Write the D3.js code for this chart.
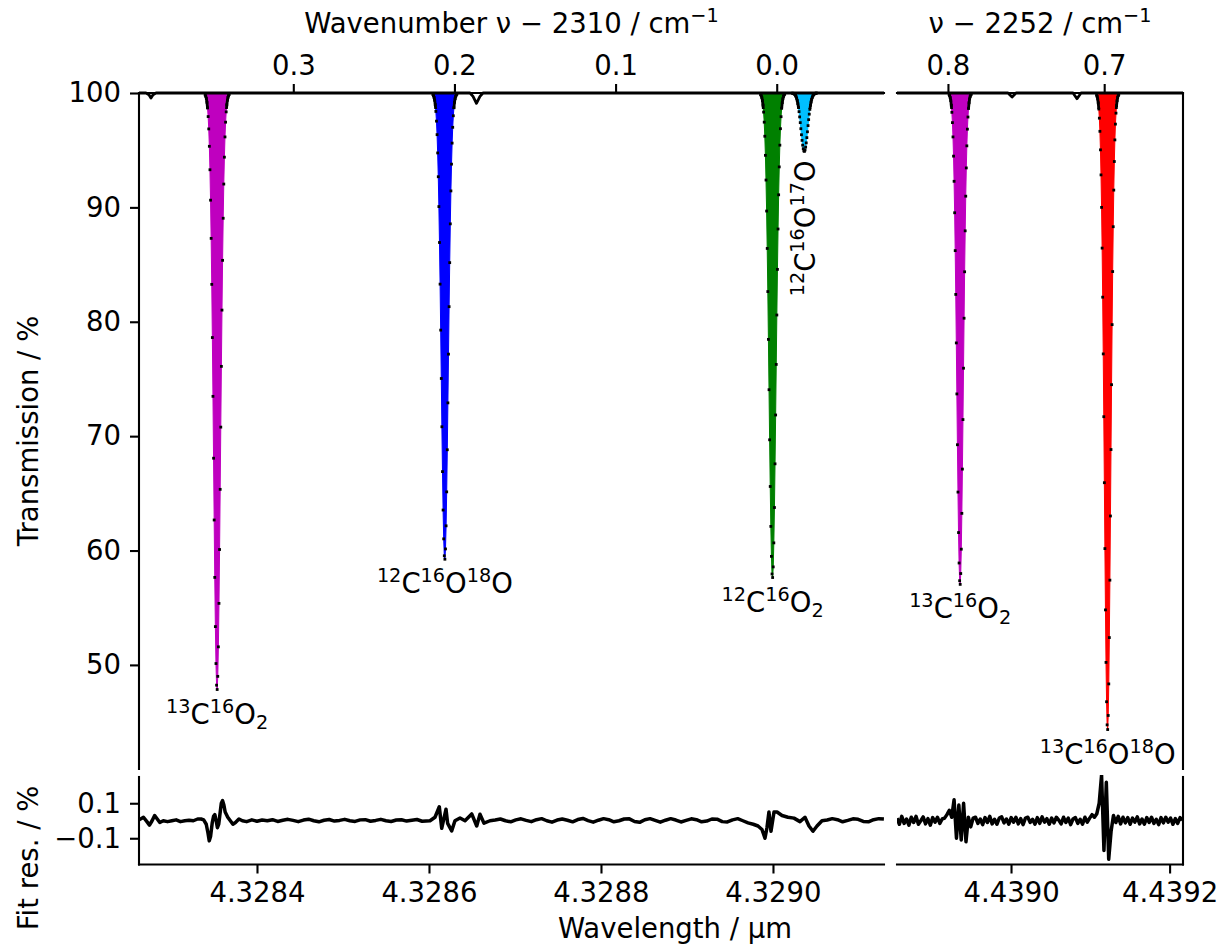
<!DOCTYPE html>
<html><head><meta charset="utf-8">
<script src="https://cdn.jsdelivr.net/npm/d3@7"></script>
<style>body{margin:0;background:#fff;} text{font-family:"DejaVu Sans";fill:#000;}</style>
</head><body><svg id="c" width="1217" height="949"></svg>
<script>
// ---------------- DATA ----------------
// measured transmission (%) for each absorption line, sampled every sampleStepUm from peakStartUm
const sampleStepUm = 0.0000007;
const peakStartUm = [4.3283397, 4.3286045, 4.3289856, 4.3290226, 4.4389219, 4.4391079];
const peakPanel = ["left", "left", "left", "left", "right", "right"];
const tr13C16O2_a = [99.84,99.72,99.52,99.19,98.69,97.94,96.86,95.34,93.29,90.63,87.29,83.27,78.62,73.48,68.07,62.67,57.65,53.35,50.12,48.23,47.85,49.00,51.58,55.38,60.09,65.35,70.79,76.10,81.02,85.37,89.05,92.04,94.39,96.16,97.45,98.35,98.97,99.37,99.63,99.79,99.88];
const tr12C16O18O = [99.88,99.78,99.62,99.37,98.98,98.39,97.54,96.36,94.76,92.68,90.07,86.93,83.29,79.27,75.04,70.82,66.90,63.54,61.02,59.54,59.24,60.14,62.16,65.13,68.81,72.91,77.17,81.32,85.17,88.56,91.44,93.78,95.62,97.00,98.01,98.71,99.19,99.51,99.71,99.83,99.91];
const tr12C16O2 = [99.87,99.77,99.61,99.34,98.94,98.33,97.45,96.22,94.55,92.39,89.68,86.41,82.64,78.46,74.06,69.68,65.60,62.11,59.49,57.95,57.64,58.57,60.67,63.76,67.58,71.85,76.27,80.59,84.58,88.11,91.10,93.54,95.44,96.88,97.93,98.66,99.16,99.49,99.70,99.83,99.90];
const tr12C16O17O = [99.98,99.97,99.95,99.92,99.87,99.80,99.69,99.54,99.34,99.08,98.76,98.37,97.91,97.41,96.88,96.35,95.86,95.44,95.13,94.94,94.90,95.02,95.27,95.64,96.10,96.61,97.15,97.67,98.15,98.57,98.93,99.22,99.45,99.62,99.75,99.84,99.90,99.94,99.96,99.98,99.99];
const tr13C16O2_b = [99.87,99.77,99.60,99.34,98.92,98.31,97.41,96.16,94.48,92.28,89.53,86.22,82.39,78.15,73.69,69.25,65.11,61.57,58.91,57.36,57.04,57.99,60.12,63.25,67.12,71.45,75.94,80.31,84.37,87.95,90.98,93.45,95.38,96.84,97.90,98.64,99.15,99.48,99.70,99.83,99.90];
const tr13C16O18O = [99.83,99.70,99.48,99.14,98.60,97.80,96.65,95.03,92.84,90.00,86.44,82.15,77.19,71.70,65.93,60.17,54.81,50.22,46.78,44.76,44.35,45.58,48.34,52.39,57.41,63.02,68.83,74.50,79.75,84.39,88.31,91.51,94.01,95.90,97.28,98.24,98.90,99.33,99.61,99.77,99.87];
const peakTransmission = [tr13C16O2_a, tr12C16O18O, tr12C16O2, tr12C16O17O, tr13C16O2_b, tr13C16O18O];
// species labels (segments: text, kind)
const labelSegments = [
  [["13","sup"],["C",""],["16","sup"],["O",""],["2","sub"]],
  [["12","sup"],["C",""],["16","sup"],["O",""],["18","sup"],["O",""]],
  [["12","sup"],["C",""],["16","sup"],["O",""],["2","sub"]],
  [["12","sup"],["C",""],["16","sup"],["O",""],["17","sup"],["O",""]],
  [["13","sup"],["C",""],["16","sup"],["O",""],["2","sub"]],
  [["13","sup"],["C",""],["16","sup"],["O",""],["18","sup"],["O",""]]
];
const labelRotated = [false, false, false, true, false, false];

// baseline of the measured spectrum away from the main lines [wavelength µm, transmission %]
const baselineLeft = [[4.3282628,100],[4.3282709,100],[4.3282744,99.85],[4.3282767,99.55],[4.3282791,99.85],[4.3282826,100],
  [4.3286477,100],[4.3286512,99.7],[4.3286552,99.1],[4.3286593,99.7],[4.3286628,100],[4.3291291,100]];
const baselineRight = [[4.4388562,100],[4.4389962,100],[4.4390013,99.65],[4.4390063,100],
  [4.4390782,100],[4.4390832,99.5],[4.4390883,100],[4.4392169,100]];

// fit residuals (%)
const residualLeft = [
 [4.328263,0.005],[4.328268,0.02],[4.328272,-0.005],[4.328275,-0.025],[4.328278,0.0],[4.328281,0.03],[4.328284,0.01],[4.328287,-0.01],
 [4.328291,0.0],[4.328296,-0.005],[4.328301,0.0],[4.328306,0.005],[4.328311,-0.005],[4.328316,0.0],[4.328321,0.003],[4.328326,0.0],
 [4.328331,0.01],[4.328335,0.01],[4.328338,0.005],[4.328341,-0.02],[4.328343,-0.07],[4.3283445,-0.115],[4.328346,-0.09],[4.328348,-0.01],
 [4.3283495,0.025],[4.328351,0.035],[4.3283525,0.0],[4.328354,-0.04],[4.3283555,-0.02],[4.328357,0.04],[4.3283585,0.1],[4.328360,0.115],
 [4.3283615,0.09],[4.328363,0.05],[4.328366,0.02],[4.328369,0.0],[4.328372,-0.02],[4.328375,-0.01],[4.328379,0.01],[4.328383,0.0],[4.328388,-0.005],
 [4.328394,0.005],[4.328400,-0.003],[4.328406,0.004],[4.328412,0.0],[4.328418,0.006],[4.328424,-0.004],[4.328430,0.003],[4.328436,0.008],
 [4.328442,0.002],[4.328448,-0.005],[4.328454,0.004],[4.328460,0.009],[4.328466,0.0],[4.328472,-0.006],[4.328478,0.003],[4.328484,0.007],
 [4.328490,-0.002],[4.328496,0.002],[4.328502,0.008],[4.328508,0.0],[4.328514,-0.004],[4.328520,0.005],[4.328526,0.006],[4.328532,-0.003],
 [4.328538,0.002],[4.328544,0.008],[4.328550,0.0],[4.328556,-0.004],[4.328562,0.004],[4.328568,0.006],[4.328574,-0.002],[4.328580,0.003],
 [4.328586,0.007],[4.328592,-0.003],
 [4.3286012,0.0],[4.3286070,0.02],[4.3286120,0.08],[4.3286148,-0.043],[4.3286198,0.066],[4.3286217,-0.015],[4.3286264,-0.058],[4.3286302,0.0],
 [4.3286361,0.016],[4.3286419,0.0],[4.3286497,0.039],[4.3286555,-0.03],[4.3286593,0.037],[4.3286640,-0.014],[4.3286709,0.0],
 [4.328677,0.004],[4.328683,0.01],[4.328689,0.0],[4.328695,-0.006],[4.328701,0.005],[4.328707,0.011],[4.328713,0.002],[4.328719,-0.005],
 [4.328725,0.006],[4.328731,0.012],[4.328737,0.0],[4.328743,-0.008],[4.328749,0.004],[4.328755,0.01],[4.328761,0.003],[4.328767,-0.006],
 [4.328773,0.007],[4.328779,0.013],[4.328785,0.001],[4.328791,-0.008],[4.328797,0.003],[4.328803,0.012],[4.328809,0.006],[4.328815,-0.006],
 [4.328821,0.0],[4.328827,0.01],[4.328833,0.011],[4.328839,-0.004],[4.328845,-0.009],[4.328851,0.006],[4.328857,0.012],[4.328863,0.002],
 [4.328869,-0.008],[4.328875,0.003],[4.328881,0.012],[4.328887,0.004],[4.328893,-0.007],[4.328899,0.002],[4.328905,0.011],[4.328911,0.006],
 [4.328917,-0.006],[4.328923,-0.002],[4.328929,0.01],[4.328935,0.009],[4.328941,-0.005],[4.328947,-0.007],[4.328953,0.005],[4.328959,0.012],
 [4.328965,0.0],[4.328971,-0.012],[4.328977,-0.02],
 [4.3289826,-0.03],[4.3289872,-0.05],[4.3289907,-0.1],[4.3289930,-0.04],[4.3289953,0.05],[4.3289977,-0.06],[4.3290012,0.05],[4.3290047,0.05],
 [4.3290105,0.03],[4.3290174,0.02],[4.3290244,0.015],[4.3290314,-0.005],[4.3290372,0.02],[4.3290419,-0.03],[4.3290465,-0.06],[4.3290512,-0.03],[4.3290570,0.0],
 [4.329063,0.004],[4.329069,0.012],[4.329075,0.006],[4.329081,-0.006],[4.329087,0.002],[4.329093,0.011],[4.329099,0.008],[4.329105,-0.004],
 [4.329111,-0.006],[4.329117,0.006],[4.329123,0.012],[4.329129,0.01]
];
const residualRightStartUm = 4.4388562;
const residualRightStepUm = 0.000003;
const residualRight = [0.015,-0.02,0.025,-0.015,0.01,-0.025,0.02,-0.01,0.025,-0.02,0.0,0.022,-0.018,0.012,-0.025,0.018,-0.008,0.02,-0.015,0.01,
 0.015,0.035,0.06,0.02,0.12,-0.1,0.09,-0.11,0.1,-0.12,0.02,-0.035,0.015,
 0.02,-0.015,0.01,-0.022,0.018,-0.01,0.025,-0.018,0.008,-0.02,0.015,0.022,-0.012,0.01,-0.02,0.018,-0.008,0.02,-0.018,0.012,-0.022,0.015,
 0.02,-0.01,0.008,-0.02,0.018,-0.015,0.022,-0.008,0.012,-0.02,0.015,-0.012,0.02,0.004,-0.018,0.02,-0.01,0.015,-0.022,0.01,0.018,-0.015,
 0.008,-0.02,0.02,-0.008,0.015,0.035,
 0.02,0.04,0.1,0.26,-0.17,0.22,-0.22,-0.06,0.03,-0.01,
 0.025,-0.018,0.02,-0.012,0.018,-0.02,0.015,-0.008,0.022,-0.018,0.01,-0.02,0.018,-0.01,0.02,-0.015,0.008,-0.022,0.018,-0.012,0.02,-0.008,
 0.015,-0.02,0.012,-0.015,0.018,0.004];

// axis ticks
const ticksBottomLeft = [4.3284, 4.3286, 4.3288, 4.3290];
const ticksBottomRight = [4.4390, 4.4392];
const ticksTopLeft = [0.3, 0.2, 0.1, 0.0];
const ticksTopRight = [0.8, 0.7];
const ticksTransmission = [50, 60, 70, 80, 90, 100];
const ticksResidual = [0.1, -0.1];

// ---------------- STYLE / LAYOUT ----------------
const peakColors = ["#bf00bf", "#0000ff", "#008000", "#00bfff", "#bf00bf", "#ff0000"];
const FS = 27.5, TICK = 9, SPW = 2.1;
const LP = {x0: 139, x1: 884}, RP = {x0: 897, x1: 1183};
const TOP = {y0: 93, y1: 769}, RES = {y0: 777, y1: 864.5};

const svg = d3.select("#c");
const xL = d3.scaleLinear().domain([4.3282628, 4.3291291]).range([LP.x0, LP.x1]);
const xR = d3.scaleLinear().domain([4.4388562, 4.4392169]).range([RP.x0, RP.x1]);
const yT = d3.scaleLinear().domain([40.9, 100]).range([TOP.y1, TOP.y0]);
const yRes = d3.scaleLinear().domain([-0.25, 0.25]).range([RES.y1, RES.y0]);
const nuL = d3.scaleLinear().domain(xL.domain().map(l => 1e4 / l - 2310)).range(xL.range());
const nuR = d3.scaleLinear().domain(xR.domain().map(l => 1e4 / l - 2252)).range(xR.range());
const xsOf = p => p === "left" ? xL : xR;

const defs = svg.append("defs");
[["clipL", LP, TOP], ["clipR", RP, TOP]].forEach(([id, P, Y]) => {
  defs.append("clipPath").attr("id", id).append("rect")
    .attr("x", P.x0).attr("y", Y.y0 - 3).attr("width", P.x1 - P.x0).attr("height", Y.y1 - Y.y0 + 3);
});
[["shL", LP], ["shR", RP]].forEach(([id, P]) => {
  defs.append("clipPath").attr("id", id).append("rect")
    .attr("x", P.x0).attr("y", TOP.y0 - 3).attr("width", P.x1 - P.x0).attr("height", yT(98.6) - TOP.y0 + 3);
});
[["rcL", LP], ["rcR", RP]].forEach(([id, P]) => {
  defs.append("clipPath").attr("id", id).append("rect")
    .attr("x", P.x0).attr("y", RES.y0 - 2).attr("width", P.x1 - P.x0).attr("height", RES.y1 - RES.y0 + 4);
});

function richText(sel, segs, size) {
  let cur = 0;
  segs.forEach(([t, kind]) => {
    const target = kind === "sup" ? -0.40 * size : kind === "sub" ? 0.2 * size : 0;
    sel.append("tspan").attr("dy", target - cur).attr("font-size", kind ? size * 0.7 : size).text(t);
    cur = target;
  });
  return sel;
}

// ----- peaks -----
const gPeaks = svg.append("g");
peakTransmission.forEach((arr, i) => {
  const xs = xsOf(peakPanel[i]);
  const pts = arr.map((t, k) => ({l: peakStartUm[i] + k * sampleStepUm, t}));
  const clip = peakPanel[i] === "left" ? "url(#clipL)" : "url(#clipR)";
  gPeaks.append("path").datum(pts).attr("clip-path", clip)
    .attr("fill", peakColors[i]).attr("stroke", peakColors[i]).attr("stroke-width", 1)
    .attr("d", d3.area().x(d => xs(d.l)).y0(yT(100)).y1(d => yT(d.t)));
});
// baseline of measured data
[[baselineLeft, xL, "url(#clipL)"], [baselineRight, xR, "url(#clipR)"]].forEach(([arr, xs, clip]) => {
  svg.append("path").datum(arr).attr("clip-path", clip).attr("fill", "none").attr("stroke", "#000")
    .attr("stroke-width", 2.8).attr("stroke-linejoin", "round")
    .attr("d", d3.line().x(d => xs(d[0])).y(d => yT(d[1])));
});
// shoulders (dense data points merge into a line near 100 %) and the data points
peakTransmission.forEach((arr, i) => {
  const xs = xsOf(peakPanel[i]);
  const pts = arr.map((t, k) => ({l: peakStartUm[i] + k * sampleStepUm, t}));
  svg.append("path").datum(pts).attr("clip-path", peakPanel[i] === "left" ? "url(#shL)" : "url(#shR)")
    .attr("fill", "none").attr("stroke", "#000").attr("stroke-width", 2.8)
    .attr("d", d3.line().x(d => xs(d.l)).y(d => yT(d.t)));
  svg.append("g").selectAll("rect").data(pts).join("rect")
    .attr("x", d => xs(d.l) - 1.4).attr("y", d => yT(d.t) - 1.4).attr("width", 2.8).attr("height", 2.8).attr("fill", "#000");
});
// labels
peakTransmission.forEach((arr, i) => {
  const xs = xsOf(peakPanel[i]);
  const kMin = d3.minIndex(arr);
  const cx = xs(peakStartUm[i] + kMin * sampleStepUm);
  const cy = yT(arr[kMin]);
  if (labelRotated[i]) {
    const t = svg.append("text").attr("text-anchor", "end")
      .attr("transform", `translate(${cx + 11},${cy + 9}) rotate(-90)`);
    richText(t, labelSegments[i], FS);
  } else {
    const t = svg.append("text").attr("text-anchor", "middle").attr("x", cx).attr("y", cy + 34);
    richText(t, labelSegments[i], FS);
  }
});

// ----- residuals -----
svg.append("path").datum(residualLeft).attr("clip-path", "url(#rcL)").attr("fill", "none").attr("stroke", "#000")
  .attr("stroke-width", 3.5).attr("stroke-linejoin", "round")
  .attr("d", d3.line().x(d => xL(d[0])).y(d => yRes(d[1])));
svg.append("path").datum(residualRight.map((v, k) => [residualRightStartUm + k * residualRightStepUm, v]))
  .attr("clip-path", "url(#rcR)").attr("fill", "none").attr("stroke", "#000")
  .attr("stroke-width", 3.5).attr("stroke-linejoin", "round")
  .attr("d", d3.line().x(d => xR(d[0])).y(d => yRes(d[1])));

// ----- axes -----
function styleAxis(g) {
  g.select(".domain").remove();
  g.selectAll(".tick line").attr("stroke", "#000").attr("stroke-width", SPW);
  g.selectAll(".tick text").attr("font-size", FS).attr("font-family", "DejaVu Sans").attr("fill", "#000");
}
svg.append("g").attr("transform", `translate(0,${TOP.y0})`)
  .call(d3.axisTop(nuL).tickValues(ticksTopLeft).tickFormat(d3.format(".1f")).tickSize(TICK).tickPadding(9)).call(styleAxis);
svg.append("g").attr("transform", `translate(0,${TOP.y0})`)
  .call(d3.axisTop(nuR).tickValues(ticksTopRight).tickFormat(d3.format(".1f")).tickSize(TICK).tickPadding(9)).call(styleAxis);
svg.append("g").attr("transform", `translate(0,${RES.y1})`)
  .call(d3.axisBottom(xL).tickValues(ticksBottomLeft).tickFormat(d3.format(".4f")).tickSize(TICK).tickPadding(9)).call(styleAxis);
svg.append("g").attr("transform", `translate(0,${RES.y1})`)
  .call(d3.axisBottom(xR).tickValues(ticksBottomRight).tickFormat(d3.format(".4f")).tickSize(TICK).tickPadding(9)).call(styleAxis);
svg.append("g").attr("transform", `translate(${LP.x0},0)`)
  .call(d3.axisLeft(yT).tickValues(ticksTransmission).tickFormat(d3.format("d")).tickSize(TICK).tickPadding(9)).call(styleAxis);
svg.append("g").attr("transform", `translate(${LP.x0},0)`)
  .call(d3.axisLeft(yRes).tickValues(ticksResidual).tickFormat(d => (d < 0 ? "\u2212" : "") + Math.abs(d).toFixed(1)).tickSize(TICK).tickPadding(9)).call(styleAxis);

// spines
const spine = (x1, y1, x2, y2) => svg.append("line").attr("x1", x1).attr("y1", y1).attr("x2", x2).attr("y2", y2)
  .attr("stroke", "#000").attr("stroke-width", SPW).attr("stroke-linecap", "square");
spine(LP.x0, TOP.y0, LP.x1, TOP.y0); spine(LP.x0, TOP.y0, LP.x0, TOP.y1);
spine(RP.x0, TOP.y0, RP.x1, TOP.y0); spine(RP.x1, TOP.y0, RP.x1, TOP.y1);
spine(LP.x0, RES.y0, LP.x0, RES.y1); spine(LP.x0, RES.y1, LP.x1, RES.y1);
spine(RP.x0, RES.y1, RP.x1, RES.y1); spine(RP.x1, RES.y0, RP.x1, RES.y1);

// axis titles
richText(svg.append("text").attr("text-anchor", "middle").attr("x", (LP.x0 + LP.x1) / 2).attr("y", 33),
  [["Wavenumber \u03bd \u2212 2310 / cm", ""], ["\u22121", "sup"]], FS);
richText(svg.append("text").attr("text-anchor", "middle").attr("x", (RP.x0 + RP.x1) / 2).attr("y", 33),
  [["\u03bd \u2212 2252 / cm", ""], ["\u22121", "sup"]], FS);
svg.append("text").attr("text-anchor", "middle").attr("x", 675).attr("y", 938).attr("font-size", FS).text("Wavelength / \u00b5m");
svg.append("text").attr("text-anchor", "middle").attr("font-size", FS)
  .attr("transform", `translate(38,${(TOP.y0 + TOP.y1) / 2}) rotate(-90)`).text("Transmission / %");
svg.append("text").attr("text-anchor", "middle").attr("font-size", FS)
  .attr("transform", `translate(38,858) rotate(-90)`).text("Fit res. / %");
</script></body></html>
